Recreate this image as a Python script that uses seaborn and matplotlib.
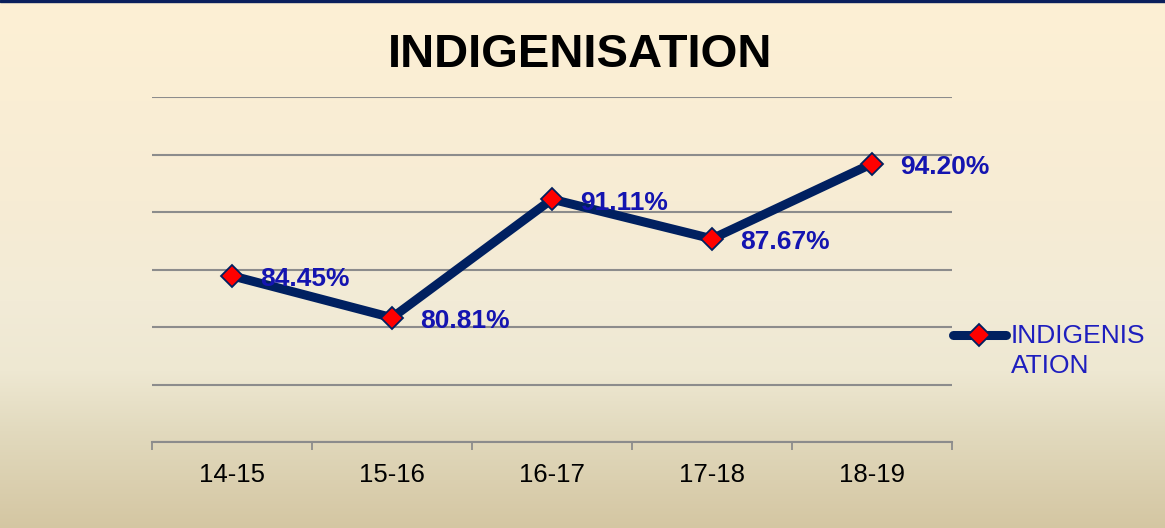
import numpy as np
import pandas as pd
import matplotlib
matplotlib.use('Agg')
import matplotlib.pyplot as plt
import seaborn as sns

# data
years = ['14-15', '15-16', '16-17', '17-18', '18-19']
indigenisation = [84.45, 80.81, 91.11, 87.67, 94.20]
series_name = 'INDIGENISATION'

df = pd.DataFrame({'year': years, 'value': indigenisation})

sns.set_theme(style='white')
plt.rcParams['font.family'] = ['Liberation Sans', 'DejaVu Sans']

W, H = 1165, 528
fig = plt.figure(figsize=(W / 100, H / 100), dpi=100)

# background gradient (cream -> tan) + dark top rule
bg = fig.add_axes([0, 0, 1, 1], zorder=-10)
stops_y = [0, 200, 300, 370, 430, 528]
stops_c = np.array([[253, 240, 212], [247, 236, 212], [242, 235, 215],
                    [238, 232, 210], [226, 218, 190], [212, 198, 162]]) / 255
rows = np.arange(H)
grad = np.stack([np.interp(rows, stops_y, stops_c[:, k]) for k in range(3)], axis=1)
grad = np.repeat(grad[:, None, :], 4, axis=1)
bg.imshow(grad, aspect='auto', extent=[0, W, H, 0])
bg.axhspan(0, 2.2, color='#0A1F5C')
bg.set_xlim(0, W)
bg.set_ylim(H, 0)
bg.axis('off')

ax = fig.add_axes([152 / W, 1 - 442 / H, 800 / W, 345 / H])
ax.set_facecolor('none')

line_color = '#002060'
sns.lineplot(data=df, x='year', y='value', ax=ax, color=line_color, lw=6.5,
             marker='D', markersize=11.5, markerfacecolor='#FF0000',
             markeredgecolor=line_color, markeredgewidth=1.3,
             label='INDIGENIS\nATION', legend=False, zorder=3)

# value labels
for i, v in enumerate(indigenisation):
    ax.annotate(f'{v:.2f}%', (i, v), xytext=(20.5, -7.5), textcoords='offset points',
                ha='left', va='baseline', fontsize=19, fontweight='bold',
                color='#1414B0', zorder=4)

ax.set_xlim(-0.5, len(years) - 0.5)
ax.set_ylim(70, 100)
ax.set_yticks(np.arange(70, 101, 5))
ax.set_yticklabels([])
ax.tick_params(axis='y', length=0)
ax.grid(axis='y', color='#8C8C8C', lw=1.5)
ax.grid(axis='x', visible=False)
ax.set_axisbelow(True)
for s in ['top', 'left', 'right']:
    ax.spines[s].set_visible(False)
ax.spines['bottom'].set_color('#8C8C8C')
ax.spines['bottom'].set_linewidth(1.5)

ax.set_xticks(range(len(years)))
ax.set_xticklabels(years, fontsize=18.5, color='black')
ax.set_xticks(np.arange(-0.5, len(years)), minor=True)
ax.tick_params(axis='x', which='major', length=0, pad=15)
ax.tick_params(axis='x', which='minor', length=5.5, width=1.3, color='#8C8C8C',
               direction='out', bottom=True)
ax.set_xlabel('')
ax.set_ylabel('')

fig.text(580 / W, 1 - 67 / H, 'INDIGENISATION', ha='center', va='baseline',
         fontsize=34, fontweight='bold', color='black')

handles, labels = ax.get_legend_handles_labels()
leg = fig.legend(handles, labels, loc='center left', bbox_to_anchor=(953 / W, 1 - 351 / H),
                 frameon=False, fontsize=19, handlelength=2.0, handletextpad=0.2,
                 borderpad=0, borderaxespad=0, labelspacing=0)
for t in leg.get_texts():
    t.set_color('#1E1EBE')
    t.set_linespacing(1.35)
# align the legend swatch with the first text line, as in the source chart
for h in leg.legend_handles:
    h.set_ydata(np.asarray(h.get_ydata()) + 11.5)
    h.set_solid_capstyle('round')

fig.savefig('out.png', dpi=100)
